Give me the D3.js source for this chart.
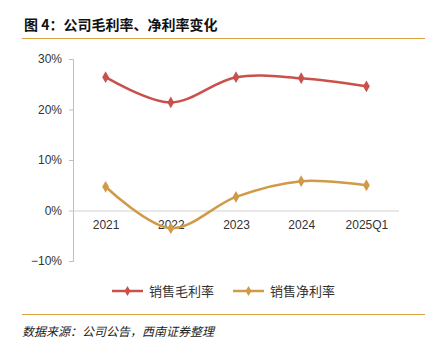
<!DOCTYPE html>
<html>
<head>
<meta charset="utf-8">
<script src="https://cdn.jsdelivr.net/npm/d3@7"></script>
<style>
  body { margin: 0; background: #fff; }
  svg { display: block; }
</style>
</head>
<body>
<svg id="chart" width="428" height="344"></svg>
<script>
// data
const categories = ["2021", "2022", "2023", "2024", "2025Q1"];
const grossMargin = [26.4, 21.4, 26.4, 26.2, 24.6];
const netMargin = [4.7, -3.5, 2.7, 5.8, 5.0];
const yTicks = [-10, 0, 10, 20, 30];
const seriesNames = ["销售毛利率", "销售净利率"];
const seriesColors = ["#c9504b", "#d09a48"];

const svg = d3.select("#chart");
const margin = {top: 59, right: 29, bottom: 83, left: 73};
const width = 428 - margin.left - margin.right;
const height = 344 - margin.top - margin.bottom;

// title + rules
svg.append("text")
    .attr("x", 24).attr("y", 30)
    .style("font-family", "'Noto Sans CJK SC', sans-serif")
    .style("font-size", "14px")
    .style("font-weight", "bold")
    .style("fill", "#111")
    .text("图 4：公司毛利率、净利率变化");

svg.append("line")
    .attr("x1", 22).attr("x2", 425)
    .attr("y1", 38.5).attr("y2", 38.5)
    .style("stroke", "#d9a044").style("stroke-width", 1.2);

svg.append("line")
    .attr("x1", 22).attr("x2", 425)
    .attr("y1", 314.5).attr("y2", 314.5)
    .style("stroke", "#d9a044").style("stroke-width", 1.2);

svg.append("text")
    .attr("x", 22).attr("y", 336)
    .style("font-family", "'Noto Sans CJK SC', sans-serif")
    .style("font-size", "12px")
    .style("font-style", "italic")
    .style("fill", "#222")
    .text("数据来源：公司公告，西南证券整理");

let g = svg.append("g")
    .attr("transform", "translate(" + margin.left + "," + margin.top + ")");

let x = d3.scalePoint()
    .domain(categories)
    .range([0, width])
    .padding(0.5);

let y = d3.scaleLinear()
    .domain([-10, 30])
    .range([height, 0]);

// y axis
let yAxis = d3.axisLeft(y)
    .tickValues(yTicks)
    .tickSize(4)
    .tickPadding(7)
    .tickFormat(d => (d < 0 ? "\u2212" + (-d) : d) + "%");

g.append("g")
    .attr("class", "y-axis")
    .call(yAxis)
    .call(ax => ax.select(".domain").style("stroke", "#bfbfbf").attr("d", "M-4,0.5H0.5V" + (height + 0.5) + "H-4"))
    .call(ax => ax.selectAll(".tick line").style("stroke", "#bfbfbf"))
    .call(ax => ax.selectAll(".tick text")
        .style("font-family", "'Liberation Sans', Arial, sans-serif")
        .style("font-size", "12px")
        .style("fill", "#333"));

// zero line
g.append("line")
    .attr("x1", 0).attr("x2", width)
    .attr("y1", y(0) + 0.5).attr("y2", y(0) + 0.5)
    .style("stroke", "#d0d0d0").style("stroke-width", 1);

// x labels under zero line
let xAxis = d3.axisBottom(x).tickSize(0).tickPadding(10);
g.append("g")
    .attr("transform", "translate(0," + y(0) + ")")
    .call(xAxis)
    .call(ax => ax.select(".domain").remove())
    .call(ax => ax.selectAll(".tick text")
        .style("font-family", "'Liberation Sans', Arial, sans-serif")
        .style("font-size", "12px")
        .style("fill", "#333"));

// lines
let line = d3.line()
    .x((d, i) => x(categories[i]))
    .y(d => y(d))
    .curve(d3.curveCatmullRom.alpha(0.5));

let diamond = d3.symbol().type(d3.symbolDiamond).size(40);

[grossMargin, netMargin].forEach(function(vals, k) {
    g.append("path")
        .datum(vals)
        .attr("d", line)
        .style("fill", "none")
        .style("stroke", seriesColors[k])
        .style("stroke-width", 2.5);

    g.selectAll(".pt" + k)
        .data(vals)
        .enter()
        .append("path")
            .attr("class", "pt" + k)
            .attr("d", diamond)
            .attr("transform", (d, i) => "translate(" + x(categories[i]) + "," + y(d) + ")")
            .style("fill", seriesColors[k]);
});

// legend
const legendX = [112, 233];
seriesNames.forEach(function(name, k) {
    let lg = svg.append("g")
        .attr("transform", "translate(" + legendX[k] + ",291)");
    lg.append("line")
        .attr("x1", 0).attr("x2", 31)
        .style("stroke", seriesColors[k]).style("stroke-width", 2.5);
    lg.append("path")
        .attr("d", d3.symbol().type(d3.symbolDiamond).size(30))
        .attr("transform", "translate(15.5,0)")
        .style("fill", seriesColors[k]);
    lg.append("text")
        .attr("x", 37).attr("y", 4.5)
        .style("font-family", "'Noto Sans CJK SC', sans-serif")
        .style("font-size", "13px")
        .style("fill", "#333")
        .text(name);
});
</script>
</body>
</html>
